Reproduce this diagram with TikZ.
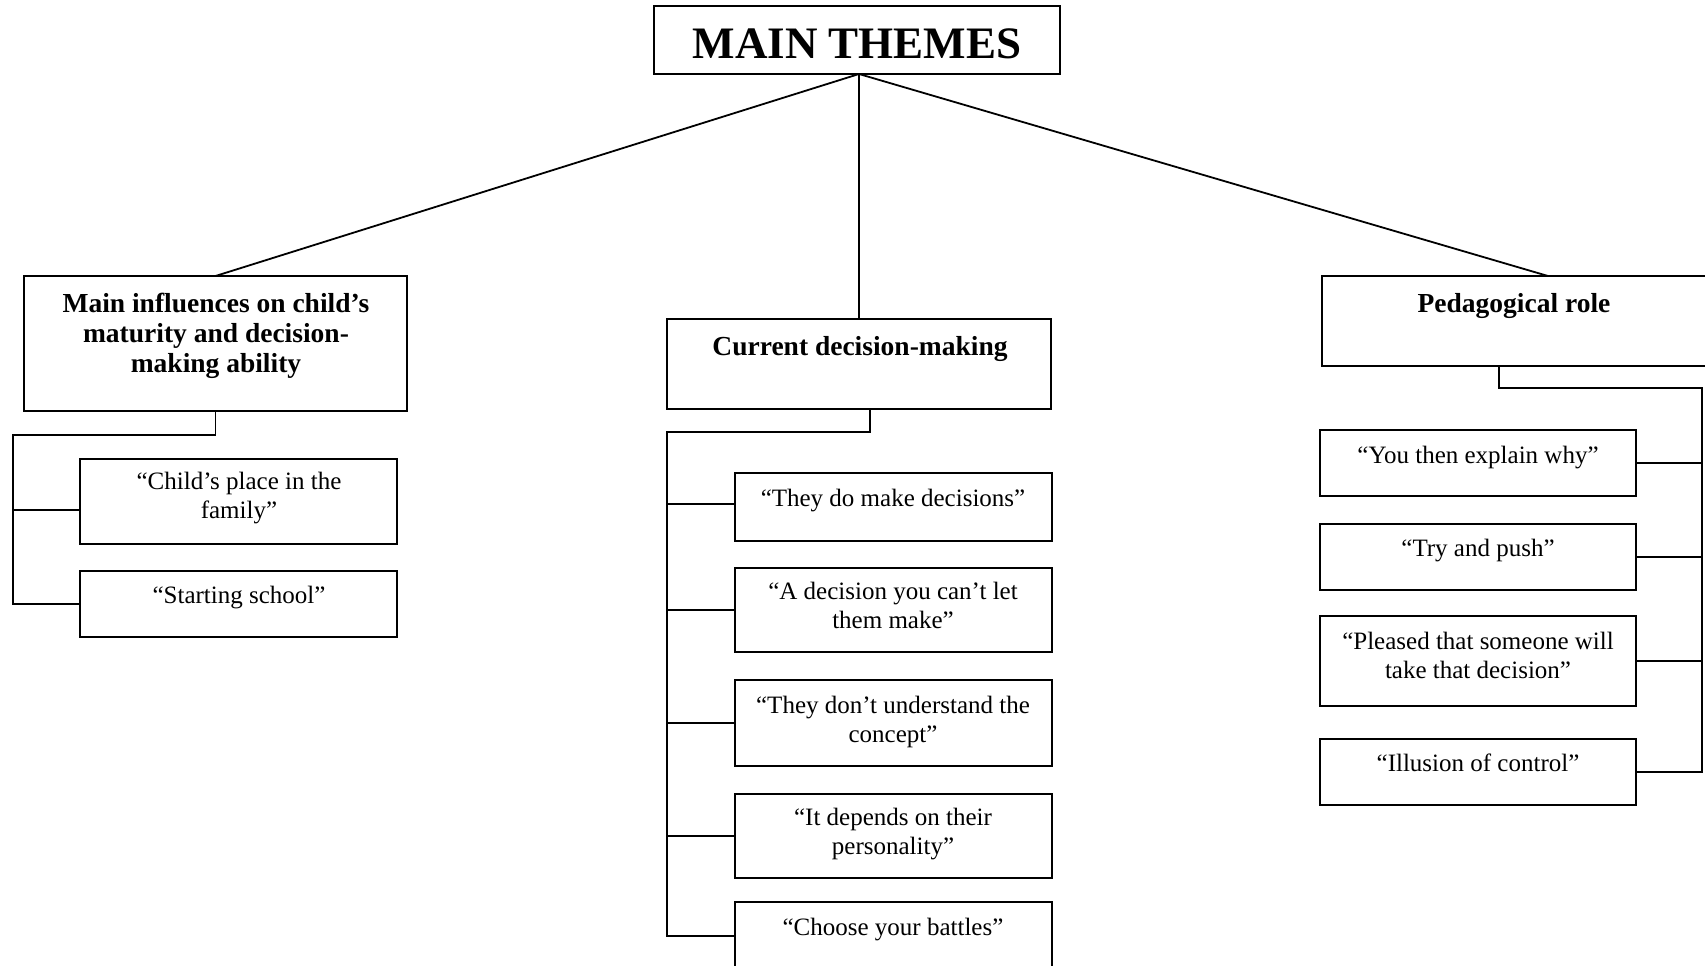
\documentclass[tikz,border=0pt]{standalone}
\usepackage{fontspec}
\setmainfont{Liberation Serif}
\usetikzlibrary{calc}
\begin{document}
\begin{tikzpicture}[x=1pt,y=-1pt,
  box/.style={draw,line width=1.8pt,inner sep=0pt,outer sep=0pt,anchor=north west},
  txt/.style={anchor=base,align=center,inner sep=0pt,font=\fontsize{25}{28.5}\selectfont},
  head/.style={anchor=base,align=center,inner sep=0pt,font=\fontsize{27.5}{30}\selectfont\bfseries},
  title/.style={anchor=base,inner sep=0pt,font=\fontsize{45}{50}\selectfont\bfseries},
  link/.style={line width=1.8pt}]
\useasboundingbox (0,0) rectangle (1705,966);
\clip (0,0) rectangle (1705,966);
% boxes
\node[box,minimum width=406pt,minimum height=68pt] (main) at (654,6) {};
\node[box,minimum width=383pt,minimum height=135pt] (box1) at (24,276) {};
\node[box,minimum width=317pt,minimum height=85pt] (l1) at (80,459) {};
\node[box,minimum width=317pt,minimum height=66pt] (l2) at (80,571) {};
\node[box,minimum width=384pt,minimum height=90pt] (cur) at (667,319) {};
\node[box,minimum width=317pt,minimum height=68pt] (c1) at (735,473) {};
\node[box,minimum width=317pt,minimum height=84pt] (c2) at (735,568) {};
\node[box,minimum width=317pt,minimum height=86pt] (c3) at (735,680) {};
\node[box,minimum width=317pt,minimum height=84pt] (c4) at (735,794) {};
\node[box,minimum width=317pt,minimum height=68pt] (c5) at (735,902) {};
\node[box,minimum width=386pt,minimum height=90pt] (ped) at (1322,276) {};
\node[box,minimum width=316pt,minimum height=66pt] (p1) at (1320,430) {};
\node[box,minimum width=316pt,minimum height=66pt] (p2) at (1320,524) {};
\node[box,minimum width=316pt,minimum height=90pt] (p3) at (1320,616) {};
\node[box,minimum width=316pt,minimum height=66pt] (p4) at (1320,739) {};
% texts (base = last line's baseline)
\node[title] (tmain) at (857,59) {MAIN THEMES};
\node[head] (tbox1) at (216,372) {Main influences on child’s\\maturity and decision-\\making ability};
\node[txt] (tl1) at (239,518) {“Child’s place in the\\family”};
\node[txt] (tl2) at (239,603) {“Starting school”};
\node[head] (tcur) at (860,355) {Current decision-making};
\node[txt] (tc1) at (893,506) {“They do make decisions”};
\node[txt] (tc2) at (893,628) {“A decision you can’t let\\them make”};
\node[txt] (tc3) at (893,742) {“They don’t understand the\\concept”};
\node[txt] (tc4) at (893,854) {“It depends on their\\personality”};
\node[txt] (tc5) at (893,935) {“Choose your battles”};
\node[head] (tped) at (1514,312) {Pedagogical role};
\node[txt] (tp1) at (1478,463) {“You then explain why”};
\node[txt] (tp2) at (1478,556) {“Try and push”};
\node[txt] (tp3) at (1478,678) {“Pleased that someone will\\take that decision”};
\node[txt] (tp4) at (1478,771) {“Illusion of control”};
% top connectors
\coordinate (apex) at (cur.north |- main.south);
\draw[link] (apex) -- (box1.north);
\draw[link] (apex) -- (cur.north);
\draw[link] (apex) -- ($(ped.north west)+(226,0)$);
% left bus
\coordinate (lbus) at (13,435);
\draw[link] (box1.south) |- (lbus) |- (l2.west);
\draw[link] ([yshift=-8.5pt]l1.west) -| (lbus);
% centre bus
\coordinate (cbus) at (667,432);
\draw[link] ([xshift=11pt]cur.south) |- (cbus) |- (c5.west);
\draw[link] ([yshift=3pt]c1.west) -| (cbus);
\draw[link] (c2.west) -| (cbus);
\draw[link] (c3.west) -| (cbus);
\draw[link] (c4.west) -| (cbus);
% right bus
\coordinate (pbus) at (1702,388);
\draw[link] ([xshift=-16pt]ped.south) |- (pbus) |- (p4.east);
\draw[link] (p1.east) -| (pbus);
\draw[link] (p2.east) -| (pbus);
\draw[link] (p3.east) -| (pbus);
\end{tikzpicture}
\end{document}
